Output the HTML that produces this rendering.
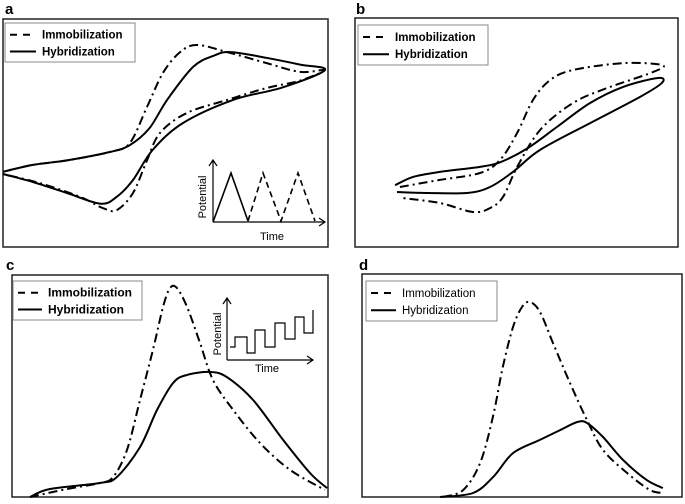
<!DOCTYPE html>
<html><head><meta charset="utf-8"><style>
html,body{margin:0;padding:0;background:#fff;width:685px;height:504px;overflow:hidden}
svg{display:block;font-family:"Liberation Sans",sans-serif}
</style></head><body>
<svg id="fig" width="685" height="504" viewBox="0 0 685 504" xmlns="http://www.w3.org/2000/svg"></svg>
<script>
// Panel a (cyclic voltammetry), normalized units 0-100
const aHybX = [0,9.2,19.7,33,39,45,50.5,58.5,65,70,81,91.4,99,86,70.8,55.4,46,40,35,30,19.7,9.2,0];
const aHybY = [33,36,38,41.7,44.7,52,64.5,79,84,85.5,83,80,77.6,70,64.5,54.4,42.5,29.4,22,19,23.7,28.5,32];
const aImmX = [0,9.2,19.7,33,39,44.3,49.2,54.5,59.7,69,81,91.4,99,91.4,81,69,56.6,48.3,44.3,40,35,30.8,23.7,11.4,0];
const aImmY = [33,36,38,41.7,45.6,61.4,76.3,85.5,88.6,85.5,80.7,76.8,77.6,73,69.7,64.5,58.8,50,38,23.7,16.2,17,22,28,32];
// Panel b
const bHybX = [12.4,18,26.3,38.7,44.9,53.3,62.5,72.8,83,93.8,95,88.2,72.8,57.3,48.9,41.8,34.7,22.3,13];
const bHybY = [27,30.6,32.8,35,37,43,52.4,62.9,69.9,73.8,71.6,65.5,54.1,42.4,32.8,26.2,23.6,23.6,24];
const bImmX = [13.9,26.3,38.7,44.9,50.2,55.1,60.4,67.5,83,95,92.3,78,67.5,57.3,50.2,45.8,41.8,36.5,26.3,14.6];
const bImmY = [26.2,29.3,32.3,38,49.8,64.2,72.9,77.3,80.3,79.5,76.4,69.4,62.9,51.1,34.9,21.8,17,15.3,19.2,21.4];
// Panel c (DPV)
const cImmX = [5.7,17.4,27.8,32,36.4,40.5,44.6,47.8,50,52.2,55.4,59.5,63.6,70,78.5,88,99];
const cImmY = [0,3.6,6.3,9,21.2,43.7,66.2,85.6,94.1,94.1,85.6,69.4,52.7,39.2,24.3,12.2,3.2];
const cHybX = [5.7,12,27.8,33.2,40.5,45.9,51,55.4,62.7,68,76.3,85.8,94.3,99.7];
const cHybY = [0,3.6,6.3,9,22.5,39.2,51.4,55,56.3,54,43.7,25.7,10.8,4];
// Panel d
const dImmX = [25.3,31.6,36.9,40.9,44,47.2,50,52.5,55.6,59.7,65,70.3,75.3,82.8,90,94];
const dImmY = [0,3.1,15.2,35.9,58.3,76.2,85.2,87.4,83,69,51.1,34.5,21.1,10.8,3.1,1.8];
const dHybX = [24.4,34.7,41,47.2,55.6,61.9,67.2,70.3,75.3,81.6,89,94];
const dHybY = [0,1.8,9,19.7,25.6,30,33.6,33.2,26.9,16.6,7.6,4];
const legendLabels = ["Immobilization","Hybridization"];
const panelLabels = ["a","b","c","d"];

const NS="http://www.w3.org/2000/svg";
const svg=document.getElementById('fig');
function mk(tag,attrs,parent){const e=document.createElementNS(NS,tag);for(const k in attrs)e.setAttribute(k,attrs[k]);(parent||svg).appendChild(e);return e;}
function scales(b){return {sx:v=>b.x+v/100*b.w, sy:v=>b.y+b.h-v/100*b.h};}
function smooth(pts,closed){
  let d="M"+pts[0][0].toFixed(1)+","+pts[0][1].toFixed(1);
  for(let i=0;i<pts.length-1;i++){
    const p0=pts[i-1]||pts[i],p1=pts[i],p2=pts[i+1],p3=pts[i+2]||p2;
    const c1=[p1[0]+(p2[0]-p0[0])/6,p1[1]+(p2[1]-p0[1])/6];
    const c2=[p2[0]-(p3[0]-p1[0])/6,p2[1]-(p3[1]-p1[1])/6];
    d+="C"+c1[0].toFixed(1)+","+c1[1].toFixed(1)+" "+c2[0].toFixed(1)+","+c2[1].toFixed(1)+" "+p2[0].toFixed(1)+","+p2[1].toFixed(1);
  }
  return d;
}
function series(b,xs,ys,dash,name){
  const s=scales(b);
  const pts=xs.map((x,i)=>[s.sx(x),s.sy(ys[i])]);
  const p=mk('path',{d:smooth(pts),fill:'none',stroke:'#000','stroke-width':2,'stroke-dasharray':dash||'none','stroke-linejoin':'round'});
  
  
}
function panel(i,b,leg,hyb,imm){
  const t=mk('text',{x:b.lx,y:b.ly,'font-size':15,'font-weight':'bold'});t.textContent=panelLabels[i];
  
  
  const r=mk('rect',{x:b.x,y:b.y,width:b.w,height:b.h,fill:'none',stroke:'#222','stroke-width':1.5});
  
  
  series(b,imm[0],imm[1],'9,4,2,4','immobilization-curve-'+panelLabels[i]);
  series(b,hyb[0],hyb[1],null,'hybridization-curve-'+panelLabels[i]);
  const g=mk('g',{});
  
  
  mk('rect',{x:leg.x,y:leg.y,width:leg.w,height:leg.h,fill:'#fff',stroke:'#888','stroke-width':1},g);
  const y1=leg.y+leg.h*0.3,y2=leg.y+leg.h*0.73;
  mk('line',{x1:leg.x+5,x2:leg.tx-6,y1:y1,y2:y1,stroke:'#000','stroke-width':2,'stroke-dasharray':'7,6'},g);
  mk('line',{x1:leg.x+5,x2:leg.tx-6,y1:y2,y2:y2,stroke:'#000','stroke-width':2},g);
  legendLabels.forEach((l,k)=>{const tt=mk('text',{x:leg.tx,y:(k?y2:y1)+4,'font-size':leg.fs,'font-weight':leg.fw},g);tt.textContent=l;
    
    });
}
panel(0,{x:3,y:19,w:325,h:228,lx:5,ly:14},{x:5,y:23,w:130,h:39,tx:42,fs:11.5,fw:'bold'},[aHybX,aHybY],[aImmX,aImmY]);
panel(1,{x:355,y:18,w:323,h:229,lx:356,ly:14},{x:358,y:25,w:130,h:40,tx:395,fs:11.5,fw:'bold'},[bHybX,bHybY],[bImmX,bImmY]);
panel(2,{x:12,y:275,w:316,h:222,lx:6,ly:270},{x:13,y:281,w:129,h:39,tx:48,fs:12,fw:'bold'},[cHybX,cHybY],[cImmX,cImmY]);
panel(3,{x:362,y:274,w:320,h:223,lx:359,ly:270},{x:366,y:281,w:131,h:40,tx:402,fs:11.5,fw:'normal'},[dHybX,dHybY],[dImmX,dImmY]);

// insets
function inset(o,name,draw){
  const g=mk('g',{});
  
  
  mk('path',{d:`M${o.x},${o.y}V${o.top}M${o.x-4},${o.top+6}L${o.x},${o.top}L${o.x+4},${o.top+6}M${o.x},${o.y}H${o.right}M${o.right-6},${o.y-4}L${o.right},${o.y}L${o.right-6},${o.y+4}`,fill:'none',stroke:'#000','stroke-width':1.2},g);
  const tp=mk('text',{x:0,y:0,'font-size':11,transform:`translate(${o.px},${o.py}) rotate(-90)`,'text-anchor':'middle'},g);tp.textContent='Potential';
  const tt=mk('text',{x:o.tx,y:o.ty,'font-size':11,'text-anchor':'middle'},g);tt.textContent='Time';
  draw(g);
}
inset({x:213,y:222,top:160,right:325,px:206,py:197,tx:272,ty:240},'cv-waveform-inset',g=>{
  mk('path',{d:'M213,222L231,173L248,221',fill:'none',stroke:'#000','stroke-width':1.6},g);
  mk('path',{d:'M248,221L263,173L281,221L298,173L315,221',fill:'none',stroke:'#000','stroke-width':1.6,'stroke-dasharray':'6,4'},g);
});
inset({x:227,y:360,top:298,right:313,px:221,py:334,tx:267,ty:372},'dpv-waveform-inset',g=>{
  mk('path',{d:'M230,347H235V337H247V353H255V330H265V347H275V323H285V339H295V317H304V333H313V310',fill:'none',stroke:'#000','stroke-width':1.2},g);
});
</script>
</body></html>
